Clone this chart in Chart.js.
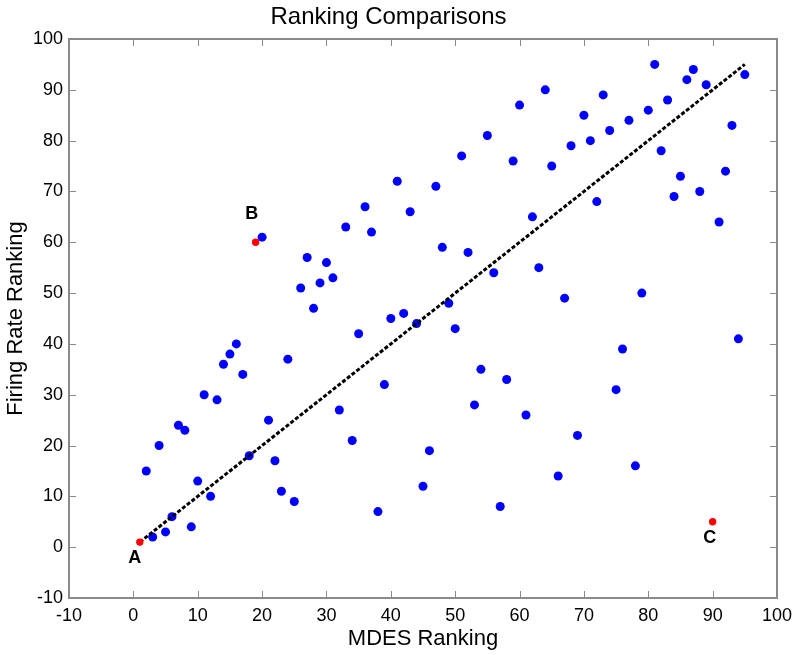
<!DOCTYPE html>
<html>
  <head>
    <title>Ranking Comparisons</title>
    <script src="https://cdn.jsdelivr.net/npm/chart.js@4.4.0/dist/chart.umd.min.js"></script>
    <style>
      body { margin: 0; background: #fff; }
    </style>
  </head>

  <body>
    <div id="container" style="width: 800px; height: 655px">
      <canvas id="canvas" width="800" height="655"></canvas>
    </div>
    <script>
      // MDES rank of each unit and its firing-rate rank
      const mdesRank = [
        1, 2, 3, 4, 5, 6, 7, 8, 9, 10, 11, 12, 13, 14, 15, 16, 17, 18, 19, 20,
        21, 22, 23, 24, 25, 26, 27, 28, 29, 30, 31, 32, 33, 34, 35, 36, 37, 38, 39, 40,
        41, 42, 43, 44, 45, 46, 47, 48, 49, 50, 51, 52, 53, 54, 55, 56, 57, 58, 59, 60,
        61, 62, 63, 64, 65, 66, 67, 68, 69, 70, 71, 72, 73, 74, 75, 76, 77, 78, 79, 80,
        81, 82, 83, 84, 85, 86, 87, 88, 89, 90, 91, 92, 93, 94, 95,
      ];
      const firingRank = [
        1, 15, 2, 20, 3, 6, 24, 23, 4, 13, 30, 10, 29, 36, 38, 40, 34, 18, 60, 61,
        25, 17, 11, 37, 9, 51, 57, 47, 52, 56, 53, 27, 63, 21, 42, 67, 62, 7, 32, 45,
        72, 46, 66, 44, 12, 19, 71, 59, 48, 43, 77, 58, 28, 35, 81, 54, 8, 33, 76, 87,
        26, 65, 55, 90, 75, 14, 49, 79, 22, 85, 80, 68, 89, 82, 31, 39, 84, 16, 50, 86,
        95, 78, 88, 69, 73, 92, 94, 70, 91, 5, 64, 74, 83, 41, 93,
      ];
      // highlighted units (indices into the arrays above) and their letters
      const markedIdx = [0, 18, 89];
      const markLabels = ['A', 'B', 'C'];
      // reference line y = x
      const fitX = [1, 95];
      const fitY = [1, 95];
      const tickValues = [-10, 0, 10, 20, 30, 40, 50, 60, 70, 80, 90, 100];

      const FONT = 'Arial, "Liberation Sans", Helvetica, sans-serif';
      const AXIS_GREY = '#8a8a8a';

      const bluePts = [];
      const redPts = [];
      mdesRank.forEach((x, i) => {
        const p = { x: x, y: firingRank[i] };
        if (markedIdx.includes(i)) redPts.push(p);
        else bluePts.push(p);
      });
      const fitPts = fitX.map((x, i) => ({ x: x, y: fitY[i] }));

      // MATLAB-like box with inward ticks on all four sides
      const framePlugin = {
        id: 'frame',
        beforeDatasetsDraw(chart) {
          const { ctx, chartArea: a, scales } = chart;
          const len = 7;
          ctx.save();
          ctx.strokeStyle = AXIS_GREY;
          ctx.lineWidth = 1;
          scales.x.ticks.forEach((t) => {
            const px = Math.round(scales.x.getPixelForValue(t.value)) + 0.5;
            ctx.beginPath();
            ctx.moveTo(px, a.bottom); ctx.lineTo(px, a.bottom - len);
            ctx.moveTo(px, a.top); ctx.lineTo(px, a.top + len);
            ctx.stroke();
          });
          scales.y.ticks.forEach((t) => {
            const py = Math.round(scales.y.getPixelForValue(t.value)) + 0.5;
            ctx.beginPath();
            ctx.moveTo(a.left, py); ctx.lineTo(a.left + len, py);
            ctx.moveTo(a.right, py); ctx.lineTo(a.right - len, py);
            ctx.stroke();
          });
          ctx.lineWidth = 2;
          ctx.strokeRect(a.left, a.top, a.right - a.left, a.bottom - a.top);
          ctx.restore();
        },
        afterDatasetsDraw(chart) {
          const { ctx, scales } = chart;
          const offsets = [[-5, 16], [-4, -28], [-3, 16]];
          ctx.save();
          ctx.font = 'bold 18px ' + FONT;
          ctx.fillStyle = '#000';
          ctx.textAlign = 'center';
          ctx.textBaseline = 'middle';
          markedIdx.forEach((idx, k) => {
            const px = scales.x.getPixelForValue(mdesRank[idx]) + offsets[k][0];
            const py = scales.y.getPixelForValue(firingRank[idx]) + offsets[k][1];
            ctx.fillText(markLabels[k], px, py);
          });
          ctx.restore();
        },
      };

      const ctx = document.getElementById('canvas').getContext('2d');
      const chart = new Chart(ctx, {
        type: 'scatter',
        data: {
          datasets: [
            {
              label: 'marked',
              data: redPts,
              backgroundColor: '#ff0000',
              borderWidth: 0,
              pointRadius: 3.7,
              order: 0,
            },
            {
              label: 'y = x',
              type: 'line',
              data: fitPts,
              borderColor: '#000',
              borderWidth: 3,
              borderDash: [4, 2],
              pointRadius: 0,
              fill: false,
              order: 1,
            },
            {
              label: 'units',
              data: bluePts,
              backgroundColor: '#0000ff',
              borderWidth: 0,
              pointRadius: 4.5,
              order: 2,
            },
          ],
        },
        options: {
          responsive: false,
          animation: false,
          layout: { padding: { top: 0, right: 23, left: 0, bottom: 0 } },
          plugins: {
            legend: { display: false },
            tooltip: { enabled: false },
            title: {
              display: true,
              text: 'Ranking Comparisons',
              color: '#000',
              font: { family: FONT, size: 24, weight: 'normal' },
              padding: { top: 3, bottom: 7.2 },
            },
          },
          scales: {
            x: {
              type: 'linear',
              min: -10,
              max: 100,
              afterFit: (s) => { s.height = 57; },
              afterBuildTicks: (s) => { s.ticks = tickValues.map((v) => ({ value: v })); },
              grid: { display: false, drawTicks: false },
              border: { display: false },
              ticks: { color: '#000', padding: 7, maxRotation: 0, font: { family: FONT, size: 18 } },
              title: {
                display: true,
                text: 'MDES Ranking',
                color: '#000',
                font: { family: FONT, size: 22 },
                padding: { top: 0, bottom: 2.5 },
              },
            },
            y: {
              type: 'linear',
              min: -10,
              max: 100,
              afterFit: (s) => { s.width = 69; },
              afterBuildTicks: (s) => { s.ticks = tickValues.map((v) => ({ value: v })); },
              grid: { display: false, drawTicks: false },
              border: { display: false },
              ticks: { color: '#000', padding: 6, font: { family: FONT, size: 18 } },
              title: {
                display: true,
                text: 'Firing Rate Ranking',
                color: '#000',
                font: { family: FONT, size: 22 },
                padding: { top: 2.4, bottom: 0 },
              },
            },
          },
        },
        plugins: [framePlugin],
      });
    </script>
  </body>
</html>
